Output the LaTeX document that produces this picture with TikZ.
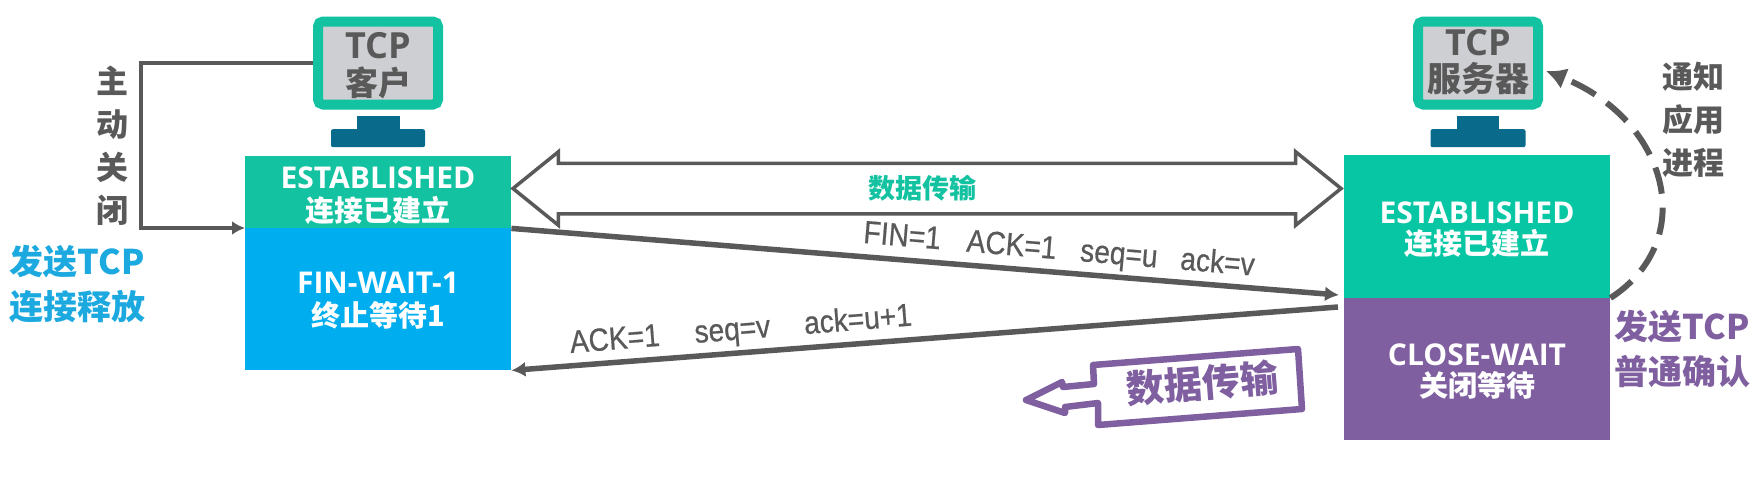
\documentclass[tikz,border=0pt]{standalone}
\usepackage{fontspec}
\setmainfont{Open Sans}
\newfontfamily\cjk{Noto Sans CJK SC}
\newfontfamily\lab[FakeStretch=0.88,FakeBold=0.6]{Liberation Sans}
\usetikzlibrary{shapes.arrows,arrows.meta}
\definecolor{tealbox}{HTML}{07C6A3}
\definecolor{tealtop}{HTML}{13C2A0}
\definecolor{bluebox}{HTML}{00AEEF}
\definecolor{purplebox}{HTML}{7F5FA0}
\definecolor{darkline}{HTML}{595959}
\definecolor{screen}{HTML}{CDCFD2}
\definecolor{stand}{HTML}{0A6A8C}
\definecolor{bluetext}{HTML}{1CA9E0}
\newcommand{\txt}[1]{\fontsize{#1}{#1}\selectfont\bfseries}
\tikzset{
  state/.style = {minimum width=266, inner sep=0, align=center, text=white},
  note/.style = {inner sep=0, align=center, font=\cjk\txt{34}},
  screenbox/.style = {fill=screen, draw=tealtop, line width=10, rounded corners=5,
    inner sep=0, align=center, text=darkline},
  standtop/.style = {fill=stand, inner sep=0},
  standbase/.style = {fill=stand, inner sep=0, rounded corners=2},
  flow/.style = {draw=darkline, line width=5.5, -{Latex[length=14,width=15]}},
  seqlabel/.style = {inner sep=0, text=darkline, font=\lab\fontsize{32}{32}\selectfont}
}
\begin{document}
\begin{tikzpicture}[x=1pt, y=-1pt, line join=miter]
  \useasboundingbox (0,0) rectangle (1758,477);
  % client side
  \node[state, fill=tealtop, minimum height=72, anchor=north west] (estA) at (245,156) {};
  \node[state, fill=bluebox, minimum height=142, anchor=north west] (finA) at (245,228) {};
  \node[font=\txt{30}, text=white, inner sep=0] (estAt) at (378,178) {ESTABLISHED};
  \node[font=\cjk\txt{29}, text=white, inner sep=0] (estAc) at (378,210) {连接已建立};
  \node[font=\txt{30}, text=white, inner sep=0] (finAt) at (378,283) {FIN-WAIT-1};
  \node[font=\cjk\txt{29}, text=white, inner sep=0] (finAc) at (378,315) {终止等待1};
  \node[screenbox, minimum width=120, minimum height=83] (clientScr) at (378,63) {};
  \node[font=\txt{36}, text=darkline, inner sep=0] (clientT) at (378,46) {TCP};
  \node[font=\cjk\txt{33}, text=darkline, inner sep=0] (clientC) at (378,83) {客户};
  \node[standtop, minimum width=43, minimum height=14, anchor=north] (clientNeck) at (378,116) {};
  \node[standbase, minimum width=94, minimum height=18, anchor=north] (clientBase) at (378,129) {};
  % server side
  \node[state, fill=tealbox, minimum height=143, anchor=north west] (estB) at (1344,155) {};
  \node[state, fill=purplebox, minimum height=142, anchor=north west] (closeB) at (1344,298) {};
  \node[font=\txt{30}, text=white, inner sep=0] (estBt) at (1477,213) {ESTABLISHED};
  \node[font=\cjk\txt{29}, text=white, inner sep=0] (estBc) at (1477,243) {连接已建立};
  \node[font=\txt{30}, text=white, inner sep=0] (closeBt) at (1477,355) {CLOSE-WAIT};
  \node[font=\cjk\txt{29}, text=white, inner sep=0] (closeBc) at (1477,385) {关闭等待};
  \node[screenbox, minimum width=120, minimum height=83] (serverScr) at (1478,63) {};
  \node[font=\txt{36}, text=darkline, inner sep=0] (serverT) at (1478,43) {TCP};
  \node[font=\cjk\txt{34}, text=darkline, inner sep=0] (serverC) at (1478,79) {服务器};
  \node[standtop, minimum width=42, minimum height=14, anchor=north] (serverNeck) at (1478,116) {};
  \node[standbase, minimum width=95, minimum height=18, anchor=north] (serverBase) at (1478,129) {};
  % side notes
  \node[note, text=darkline, font=\cjk\txt{32}] (closeNote) at (112,146) {主\\[11pt]动\\[11pt]关\\[11pt]闭};
  \node[note, text=bluetext, anchor=west] (sendA) at (9,284) {发送TCP\\[11pt]连接释放};
  \node[note, text=purplebox, anchor=west] (sendB) at (1614,349) {发送TCP\\[11pt]普通确认};
  \node[note, text=darkline, font=\cjk\txt{31}] (notifyNote) at (1693,120) {通知\\[12pt]应用\\[12pt]进程};
  % data arrows
  \node[double arrow, draw=darkline, line width=3.5, fill=white, inner sep=0,
    minimum width=70, minimum height=828, text height=47, text width=700,
    double arrow head extend=11.5, double arrow tip angle=78] (dataArrow) at (927,188.5) {};
  \node[font=\cjk\txt{27}, text=tealtop, inner sep=0] (dataText) at (922,188) {数据传输};
  \draw[purplebox, line width=6.5, fill=white, line join=round]
    (1026,400) -- (1062,382) -- (1063,387) -- (1094,384) -- (1093,365) -- (1298,349)
    -- (1302,409) -- (1098,425) -- (1098,403) -- (1065,407) -- (1065,413) -- cycle;
  \node[font=\cjk\txt{38}, text=purplebox, inner sep=0, rotate=4.5] (backText) at (1202,383) {数据传输};
  % connectors
  \coordinate (finEnd) at (1339,295);
  \coordinate (ackStart) at (1338,307);
  \coordinate (closeTurn) at (141,63);
  \coordinate (closeLow) at (141,228);
  \coordinate (notifyTip) at (1546,71);
  \draw[flow] (estA.south east) -- (finEnd);
  \draw[flow] (ackStart) -- (finA.south east);
  \draw[flow, line width=4, -{Latex[length=13,width=14]}] (clientScr.west) -- (closeTurn) -- (closeLow) -- (finA.north west);
  \draw[darkline, line width=6, dash pattern=on 27 off 14, -{Latex[length=20,width=22]}]
    (closeB.north east) .. controls (1700,240) and (1668,120) .. (notifyTip);
  \node[seqlabel, rotate=-4.8] (finLabel) at (1059,251) {FIN=1\hspace{26pt}ACK=1\hspace{24pt}seq=u\hspace{23pt}ack=v};
  \node[seqlabel, rotate=4.6] (ackLabel) at (741,331) {ACK=1\hspace{35pt}seq=v\hspace{34pt}ack=u+1};
\end{tikzpicture}
\end{document}
